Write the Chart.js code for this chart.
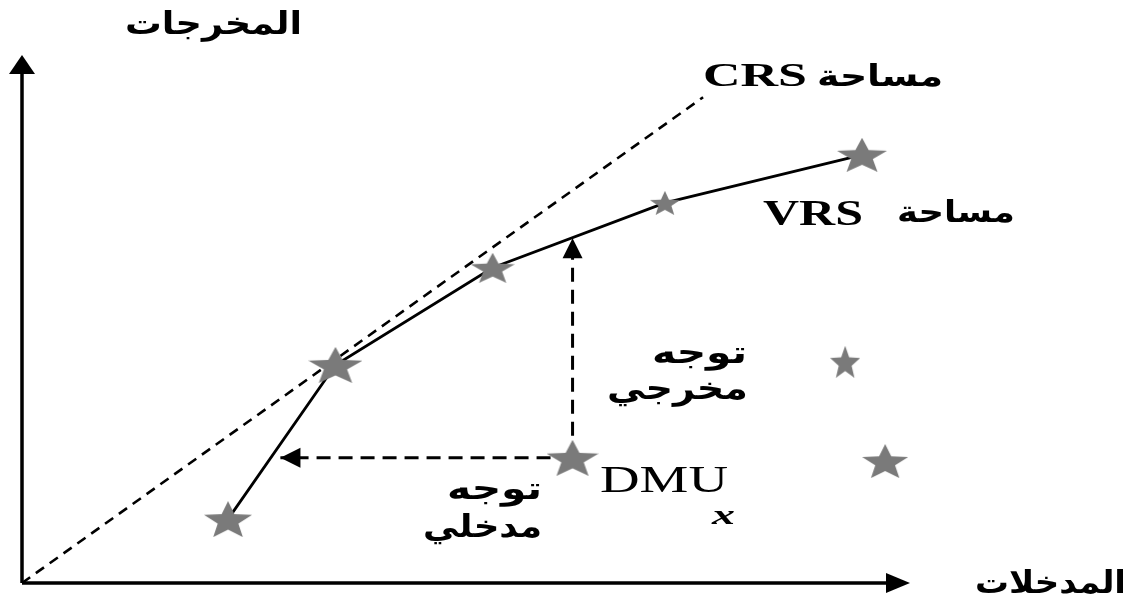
<!DOCTYPE html>
<html>
<head>
<meta charset="utf-8">
<script src="https://cdn.jsdelivr.net/npm/chart.js@4"></script>
<style>
  html, body { margin: 0; padding: 0; background: #fff; }
  #wrap { width: 1141px; height: 600px; }
</style>
</head>
<body>
<div id="wrap"><canvas id="chartCanvas" width="1141" height="600"></canvas></div>
<script>
// efficient frontier (VRS) units
const frontierX = [23.2, 35.3, 53.0, 72.4, 94.6];
const frontierY = [12.1, 41.3, 59.7, 72.0, 81.1];
// inefficient units: DMU x, and two others
const otherX = [62.0, 92.7, 97.2];
const otherY = [23.7, 41.9, 23.1];
// CRS ray from origin
const crsX = [0, 76.7];
const crsY = [0, 92.0];
// projections of DMU x
const inputTargetX = 29.1;
const outputTargetY = 65.3;

// filled star image, stretched like the original figure
const makeStar = (w, h, color) => {
  const c = document.createElement("canvas");
  c.width = w;
  c.height = h;
  const g = c.getContext("2d");
  const pts = [];
  for (let i = 0; i < 10; i++) {
    const r = i % 2 === 0 ? 1 : 0.43;
    const a = -Math.PI / 2 + (i * Math.PI) / 5;
    pts.push([r * Math.cos(a), r * Math.sin(a)]);
  }
  // star bbox: x in [-0.951, 0.951], y in [-1, 0.809]
  g.beginPath();
  pts.forEach(([px, py], i) => {
    const x = ((px + 0.951) / 1.902) * w;
    const y = ((py + 1) / 1.809) * h;
    i === 0 ? g.moveTo(x, y) : g.lineTo(x, y);
  });
  g.closePath();
  g.fillStyle = color;
  g.fill();
  return c;
};

const starGray = "#7a7a7a";
const frontierStars = [
  makeStar(48, 36, starGray),
  makeStar(54, 36, starGray),
  makeStar(44, 30, starGray),
  makeStar(30, 24, starGray),
  makeStar(50, 34, starGray),
];
const otherStars = [
  makeStar(52, 36, starGray),
  makeStar(30, 32, starGray),
  makeStar(46, 34, starGray),
];

const toPts = (xs, ys) => xs.map((x, i) => ({ x: x, y: ys[i] }));

// text labels (pixel boxes)
const labels = [
  { text: "المخرجات", font: "bold 31px 'DejaVu Sans'", left: 125, right: 302, base: 34 },
  { text: "CRS", font: "bold 34px 'Liberation Serif'", left: 703, right: 807, base: 86 },
  { text: "مساحة", font: "bold 30px 'DejaVu Sans'", left: 817, right: 943, base: 86 },
  { text: "VRS", font: "bold 36px 'Liberation Serif'", left: 763, right: 863, base: 225 },
  { text: "مساحة", font: "bold 30px 'DejaVu Sans'", left: 897, right: 1015, base: 222 },
  { text: "توجه", font: "bold 31px 'DejaVu Sans'", left: 652, right: 747, base: 363 },
  { text: "مخرجي", font: "bold 31px 'DejaVu Sans'", left: 607, right: 748, base: 399 },
  { text: "DMU", font: "37px 'Liberation Serif'", left: 600, right: 728, base: 492 },
  { text: "x", font: "italic bold 28px 'Liberation Serif'", left: 712, right: 735, base: 524 },
  { text: "توجه", font: "bold 31px 'DejaVu Sans'", left: 447, right: 542, base: 499 },
  { text: "مدخلي", font: "bold 31px 'DejaVu Sans'", left: 423, right: 542, base: 537 },
  { text: "المدخلات", font: "bold 31px 'DejaVu Sans'", left: 975, right: 1126, base: 593 },
];

const arrowHead = (c, x, y, angle, len, half) => {
  c.save();
  c.translate(x, y);
  c.rotate(angle);
  c.beginPath();
  c.moveTo(0, 0);
  c.lineTo(-len, -half);
  c.lineTo(-len, half);
  c.closePath();
  c.fillStyle = "#000";
  c.fill();
  c.restore();
};

const figurePlugin = {
  id: "figure",
  beforeDatasetsDraw(chart) {
    const c = chart.ctx;
    const xs = chart.scales.x;
    const ys = chart.scales.y;
    const x0 = xs.getPixelForValue(0);
    const y0 = ys.getPixelForValue(0);
    const xEnd = xs.getPixelForValue(100);
    const yEnd = ys.getPixelForValue(100);
    c.save();
    c.strokeStyle = "#000";
    c.lineWidth = 3.5;
    c.beginPath();
    c.moveTo(x0, y0);
    c.lineTo(xEnd - 10, y0);
    c.moveTo(x0, y0);
    c.lineTo(x0, yEnd + 10);
    c.stroke();
    c.restore();
    arrowHead(c, xEnd, y0, 0, 24, 10);
    arrowHead(c, x0, yEnd, -Math.PI / 2, 19, 13);
  },
  afterDatasetsDraw(chart) {
    const c = chart.ctx;
    chart.data.datasets.forEach((ds, i) => {
      if (!ds.arrow) return;
      const pts = chart.getDatasetMeta(i).data;
      const a = pts[pts.length - 2];
      const b = pts[pts.length - 1];
      arrowHead(c, b.x, b.y, Math.atan2(b.y - a.y, b.x - a.x), 20, 10);
    });
  },
  afterDraw(chart) {
    const c = chart.ctx;
    c.save();
    c.fillStyle = "#000";
    c.textBaseline = "alphabetic";
    c.textAlign = "left";
    labels.forEach((l) => {
      c.font = l.font;
      const w = c.measureText(l.text).width;
      const sx = (l.right - l.left) / w;
      c.save();
      c.translate(l.left, l.base);
      c.scale(sx, 1);
      c.fillText(l.text, 0, 0);
      c.restore();
    });
    c.restore();
  },
};

const ctx = document.getElementById("chartCanvas").getContext("2d");
const dmu = { x: otherX[0], y: otherY[0] };

new Chart(ctx, {
  type: "scatter",
  data: {
    datasets: [
      {
        label: "DMU",
        data: toPts(otherX, otherY),
        pointStyle: otherStars,
        showLine: false,
        order: 0,
      },
      {
        label: "VRS",
        data: toPts(frontierX, frontierY),
        pointStyle: frontierStars,
        showLine: true,
        borderColor: "#000",
        borderWidth: 2.8,
        order: 1,
      },
      {
        label: "CRS",
        data: toPts(crsX, crsY),
        showLine: true,
        borderColor: "#000",
        borderWidth: 2.6,
        borderDash: [10, 7],
        pointRadius: 0,
        order: 2,
      },
      {
        label: "input",
        data: [dmu, { x: inputTargetX, y: otherY[0] }],
        showLine: true,
        borderColor: "#000",
        borderWidth: 3,
        borderDash: [14, 8],
        pointRadius: 0,
        arrow: true,
        order: 3,
      },
      {
        label: "output",
        data: [dmu, { x: otherX[0], y: outputTargetY }],
        showLine: true,
        borderColor: "#000",
        borderWidth: 3,
        borderDash: [14, 8],
        pointRadius: 0,
        arrow: true,
        order: 3,
      },
    ],
  },
  options: {
    responsive: false,
    animation: false,
    clip: false,
    layout: { padding: { left: 22, right: 231, top: 55, bottom: 17 } },
    scales: {
      x: { type: "linear", min: 0, max: 100, display: false },
      y: { type: "linear", min: 0, max: 100, display: false },
    },
    plugins: {
      legend: { display: false },
      tooltip: { enabled: false },
    },
  },
  plugins: [figurePlugin],
});
</script>
</body>
</html>
